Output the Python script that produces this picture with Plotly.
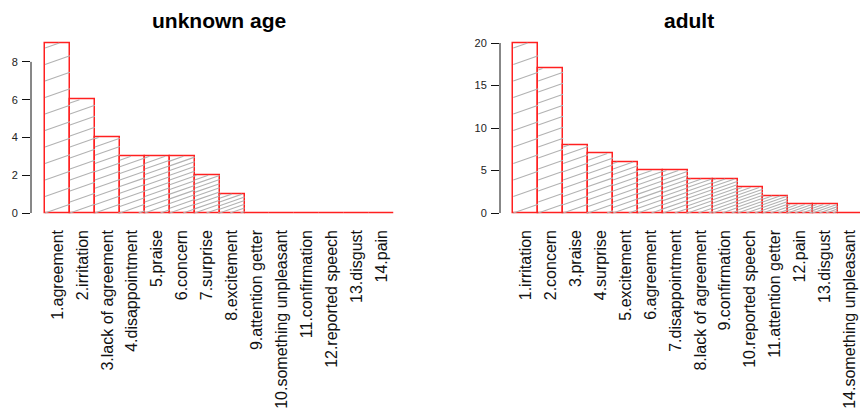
import plotly.graph_objects as go

# Count of each emotion category, sorted within each age group
unknown_labels = ["1.agreement", "2.irritation", "3.lack of agreement", "4.disappointment",
                  "5.praise", "6.concern", "7.surprise", "8.excitement", "9.attention getter",
                  "10.something unpleasant", "11.confirmation", "12.reported speech",
                  "13.disgust", "14.pain"]
unknown_counts = [9, 6, 4, 3, 3, 3, 2, 1, 0, 0, 0, 0, 0, 0]
unknown_ticks = [0, 2, 4, 6, 8]

adult_labels = ["1.irritation", "2.concern", "3.praise", "4.surprise", "5.excitement",
                "6.agreement", "7.disappointment", "8.lack of agreement", "9.confirmation",
                "10.reported speech", "11.attention getter", "12.pain", "13.disgust",
                "14.something unpleasant"]
adult_counts = [20, 17, 8, 7, 6, 5, 5, 4, 4, 3, 2, 1, 1, 0]
adult_ticks = [0, 5, 10, 15, 20]

W, H = 860, 408
FONT = "Liberation Sans, Arial, sans-serif"
BAR_W = 24.94          # pixel width of one bar
ZERO_PX = 213.0        # pixel row of the baseline
TOP_PX = 43.0          # pixel row of the tallest bar

panels = [
    dict(title="unknown age", labels=unknown_labels, counts=unknown_counts, ticks=unknown_ticks,
         axis_px=31.0, bar0_px=45.0, right_px=420.0, title_x=218.7, xa="x", ya="y"),
    dict(title="adult", labels=adult_labels, counts=adult_counts, ticks=adult_ticks,
         axis_px=500.0, bar0_px=513.3, right_px=860.0, title_x=689.0, xa="x2", ya="y2"),
]


def hatch_segments(counts, ppu_x, ppu_y, slope=0.35, base_gap=33.0):
    """Shading lines for each bar, denser for each successive bar."""
    xs, ys = [], []
    for i, h in enumerate(counts):
        hp = h * ppu_y
        if hp <= 0:
            continue
        w = ppu_x
        gap = base_gap / (i + 2)
        k = int(-slope * w // gap) - 1
        while k * gap <= hp:
            c = k * gap
            t_lo = max(0.0, -c / slope)
            t_hi = min(w, (hp - c) / slope)
            if t_hi > t_lo:
                x_left = i - 0.5
                xs += [x_left + t_lo / ppu_x, x_left + t_hi / ppu_x, None]
                ys += [(c + slope * t_lo) / ppu_y, (c + slope * t_hi) / ppu_y, None]
            k += 1
    return xs, ys


fig = go.Figure()
layout = {}
annotations = []
shapes = []

for p in panels:
    counts = p["counts"]
    n = len(counts)
    ymax = max(counts)
    ppu_y = (ZERO_PX - TOP_PX) / ymax
    pad = 0.04 * ymax
    bottom_px = ZERO_PX + pad * ppu_y
    top_px = TOP_PX - pad * ppu_y

    x_start = -0.5 - (p["bar0_px"] - p["axis_px"]) / BAR_W
    x_end = -0.5 + (p["right_px"] - p["bar0_px"]) / BAR_W

    hx, hy = hatch_segments(counts, BAR_W, ppu_y)
    fig.add_trace(go.Bar(
        x=list(range(n)), y=counts, width=1,
        marker=dict(color="rgba(255,255,255,0)", line=dict(color="#ff2020", width=1.5)),
        xaxis=p["xa"], yaxis=p["ya"], showlegend=False, hoverinfo="skip"))
    fig.add_trace(go.Scatter(
        x=hx, y=hy, mode="lines", line=dict(color="rgb(178,178,178)", width=1.1),
        xaxis=p["xa"], yaxis=p["ya"], showlegend=False, hoverinfo="skip"))

    xkey = "xaxis" if p["xa"] == "x" else "xaxis2"
    ykey = "yaxis" if p["ya"] == "y" else "yaxis2"
    layout[xkey] = dict(
        domain=[p["axis_px"] / W, p["right_px"] / W], range=[x_start, x_end],
        anchor=p["ya"], tickmode="array", tickvals=list(range(n)), ticktext=p["labels"],
        tickangle=-90, ticks="", showline=False, showgrid=False, zeroline=False,
        tickfont=dict(family=FONT, size=16, color="#111"), ticklabelstandoff=6)
    layout[ykey] = dict(
        domain=[1 - bottom_px / H, 1 - top_px / H], range=[-pad, ymax + pad],
        anchor=p["xa"], tickmode="array", tickvals=p["ticks"],
        ticks="outside", ticklen=8, tickwidth=1, tickcolor="#111",
        showline=False, showgrid=False, zeroline=False,
        tickfont=dict(family=FONT, size=11, color="#222"), ticklabelstandoff=2)
    shapes.append(dict(type="line", xref=f"{p['xa']} domain", yref=p["ya"],
                       x0=0, x1=0, y0=min(p["ticks"]), y1=max(p["ticks"]),
                       line=dict(color="#111", width=1)))
    annotations.append(dict(text=f"<b>{p['title']}</b>", xref="paper", yref="paper",
                            x=p["title_x"] / W, y=1 - 20.5 / H, xanchor="center", yanchor="middle",
                            showarrow=False, font=dict(family=FONT, size=21, color="#000")))

fig.update_layout(
    width=W, height=H, margin=dict(l=0, r=0, t=0, b=0),
    paper_bgcolor="white", plot_bgcolor="white",
    bargap=0, annotations=annotations, shapes=shapes, **layout)

fig.write_html("out.html")
